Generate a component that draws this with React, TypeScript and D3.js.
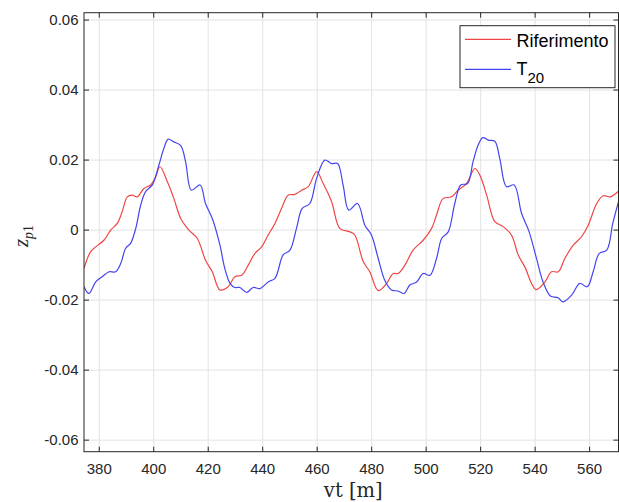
import React from "react";
import * as d3 from "d3";

const refX = [374.4,376.8,378.7,381.7,384.2,386.6,388.4,390.3,392.1,393.9,396.4,398.9,400.7,402.3,405.0,407.4,409.9,412.9,416.0,419.0,421.5,424.3,427.3,429.8,432.3,434.7,437.1,439.6,442.0,444.5,446.9,449.4,451.8,454.3,456.7,459.8,462.2,465.3,468.3,472.0,473.8,476.9,479.3,482.4,485.5,487.9,489.7,492.2,495.2,498.9,502.0,503.8,506.2,509.3,511.7,514.8,517.9,519.7,522.2,525.2,528.3,531.3,533.8,536.2,540.3,543.6,546.0,548.5,550.9,554.0,557.0,559.5,562.6,565.0,567.5,570.6];
const refY = [-0.0109,-0.0062,-0.0048,-0.0029,0,0.0019,0.0052,0.0095,0.0100,0.0095,0.0119,0.0129,0.0152,0.0181,0.0138,0.0090,0.0033,0,-0.0024,-0.0086,-0.0119,-0.0171,-0.0162,-0.0133,-0.0129,-0.0100,-0.0067,-0.0048,-0.0014,0.0019,0.0062,0.0100,0.0102,0.0114,0.0124,0.0167,0.0133,0.0081,0.0005,-0.0005,-0.0014,-0.0090,-0.0119,-0.0173,-0.0152,-0.0124,-0.0124,-0.0100,-0.0057,-0.0029,0.0005,0.0043,0.0090,0.0095,0.0114,0.0133,0.0176,0.0157,0.0100,0.0024,0.0010,-0.0014,-0.0071,-0.0105,-0.0170,-0.0148,-0.0119,-0.0119,-0.0081,-0.0043,-0.0019,0.0014,0.0076,0.0098,0.0095,0.0111];

const t20X = [374.4,376.2,378.7,381.1,383.6,386.0,387.9,389.7,391.5,393.4,395.2,397.0,399.5,401.9,403.7,405.3,407.4,409.9,411.7,413.8,417.0,419.0,421.5,424.3,426.1,428.0,429.8,431.6,434.1,436.5,439.0,442.0,444.5,447.5,450.0,452.4,454.5,457.3,459.8,462.8,465.3,467.5,469.5,471.6,474.8,477.5,479.9,482.4,484.8,487.3,489.7,491.9,494.0,496.5,498.9,501.4,503.8,505.7,508.1,510.5,512.7,515.2,517.2,519.1,520.8,522.8,525.2,527.0,529.5,532.3,535.0,537.8,540.5,542.9,545.6,548.4,550.3,553.4,556.4,559.1,561.3,563.5,566.3,568.5,570.6];
const t20Y = [-0.0162,-0.0181,-0.0148,-0.0133,-0.0119,-0.0119,-0.0095,-0.0052,-0.0038,0.0005,0.0071,0.0110,0.0129,0.0186,0.0233,0.0260,0.0252,0.0241,0.0195,0.0114,0.0129,0.0076,0.0033,-0.0043,-0.0110,-0.0152,-0.0164,-0.0164,-0.0178,-0.0164,-0.0167,-0.0148,-0.0138,-0.0071,-0.0057,0.0005,0.0062,0.0076,0.0148,0.0200,0.0190,0.0190,0.0129,0.0057,0.0076,0.0014,-0.0014,-0.0081,-0.0143,-0.0171,-0.0174,-0.0181,-0.0157,-0.0148,-0.0124,-0.0129,-0.0081,-0.0024,-0.0005,0.0076,0.0129,0.0133,0.0195,0.0243,0.0264,0.0257,0.0254,0.0205,0.0124,0.0129,0.0048,-0.0005,-0.0081,-0.0148,-0.0188,-0.0193,-0.0205,-0.0186,-0.0152,-0.0162,-0.0119,-0.0067,-0.0057,0.0019,0.0081];

const xTicks = [380,400,420,440,460,480,500,520,540,560];
const yTicks = [0.06,0.04,0.02,0,-0.02,-0.04,-0.06];
const yTickLabels = ["0.06","0.04","0.02","0","-0.02","-0.04","-0.06"];
const seriesNames = ["Riferimento", "T"];

export default function App() {
  const L = 84, R = 618.5, T = 12.7, B = 451.7;
  const x = d3.scaleLinear().domain([374.4, 570.6]).range([L, R]);
  const y = d3.scaleLinear().domain([-0.0633, 0.0621]).range([B, T]);
  const line = d3.line<[number, number]>().x(d => x(d[0])).y(d => y(d[1])).curve(d3.curveCatmullRom.alpha(0.5));
  const refPts = refX.map((v, i) => [v, refY[i]] as [number, number]);
  const t20Pts = t20X.map((v, i) => [v, t20Y[i]] as [number, number]);
  const axisCol = "#262626";
  const gridCol = "#e3e3e3";
  const red = "#f04545";
  const blue = "#4545f0";
  const font = "'Liberation Sans', Arial, sans-serif";
  return (
    <svg width={619} height={502} style={{ position: "absolute", left: 0, top: 0, background: "#fff" }}>
      <rect x={0} y={0} width={619} height={502} fill="#fff" />
      <defs>
        <clipPath id="plot"><rect x={L} y={T} width={R - L} height={B - T} /></clipPath>
      </defs>
      {xTicks.map(t => (
        <line key={"gx" + t} x1={x(t)} x2={x(t)} y1={T} y2={B} stroke={gridCol} strokeWidth={1} />
      ))}
      {yTicks.map(t => (
        <line key={"gy" + t} x1={L} x2={R} y1={y(t)} y2={y(t)} stroke={gridCol} strokeWidth={1} />
      ))}
      <g clipPath="url(#plot)" fill="none" strokeWidth={1.2}>
        <path d={line(refPts) || ""} stroke={red} />
        <path d={line(t20Pts) || ""} stroke={blue} />
      </g>
      <rect x={L} y={T} width={R - L} height={B - T} fill="none" stroke={axisCol} strokeWidth={1} />
      {xTicks.map(t => (
        <g key={"tx" + t}>
          <line x1={x(t)} x2={x(t)} y1={B} y2={B - 5} stroke={axisCol} />
          <line x1={x(t)} x2={x(t)} y1={T} y2={T + 5} stroke={axisCol} />
          <text x={x(t)} y={474} textAnchor="middle" fontFamily={font} fontSize={15} fill={axisCol}>{t}</text>
        </g>
      ))}
      {yTicks.map((t, i) => (
        <g key={"ty" + t}>
          <line x1={L} x2={L + 5} y1={y(t)} y2={y(t)} stroke={axisCol} />
          <line x1={R} x2={R - 5} y1={y(t)} y2={y(t)} stroke={axisCol} />
          <text x={78.5} y={y(t) + 5} textAnchor="end" fontFamily={font} fontSize={15} fill={axisCol}>{yTickLabels[i]}</text>
        </g>
      ))}
      <text x={(L + R) / 2 + 2} y={497} textAnchor="middle" fontFamily="'DejaVu Serif', 'Liberation Serif', serif" fontSize={19.5} fill={axisCol}>vt [m]</text>
      <text transform="translate(28,236) rotate(-90)" textAnchor="middle" fontFamily="'Liberation Serif', serif" fontStyle="italic" fontSize={21} fill={axisCol}>
        z<tspan fontSize={14} dy={5}>p</tspan><tspan fontSize={14} fontStyle="normal">1</tspan>
      </text>
      <rect x={460} y={25.7} width={155} height={62} fill="#fff" stroke={axisCol} strokeWidth={1} />
      <line x1={465} x2={511} y1={39.3} y2={39.3} stroke={red} strokeWidth={1.2} />
      <text x={516.5} y={46.5} fontFamily={font} fontSize={18} fill="#000">{seriesNames[0]}</text>
      <line x1={465} x2={511} y1={69.3} y2={69.3} stroke={blue} strokeWidth={1.2} />
      <text x={516.5} y={74.5} fontFamily={font} fontSize={18} fill="#000">{seriesNames[1]}<tspan fontSize={15} dy={8}>20</tspan></text>
    </svg>
  );
}
